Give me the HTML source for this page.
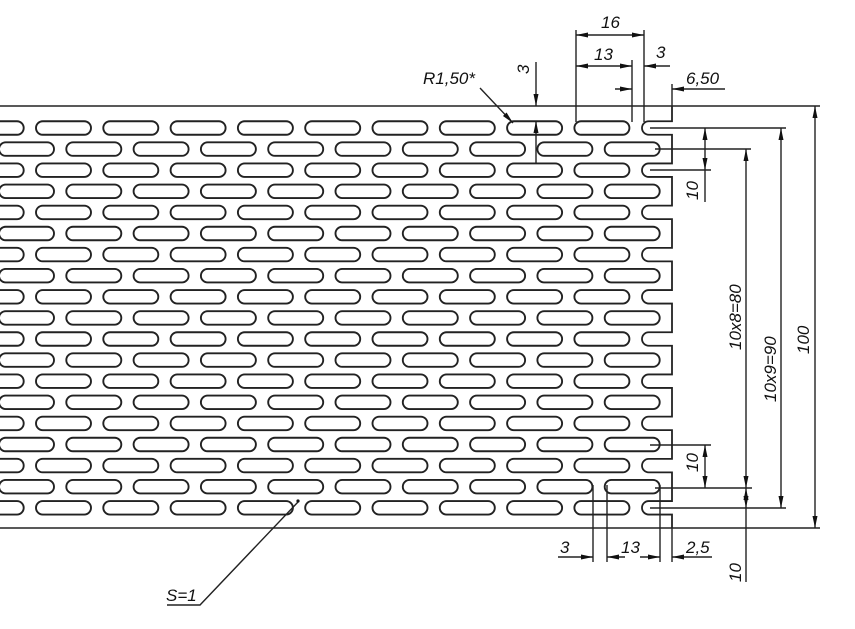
<!DOCTYPE html>
<html><head><meta charset="utf-8"><style>
html,body{margin:0;padding:0;background:#fff;}
svg{display:block;}
text{font-family:"Liberation Sans",sans-serif;font-style:italic;font-size:17px;fill:#111;}
</style></head><body>
<svg id="s" width="855" height="629" viewBox="0 0 855 629" xmlns="http://www.w3.org/2000/svg">
<defs>
<marker id="a" viewBox="0 0 12 6" refX="12" refY="3" markerWidth="13" markerHeight="6" markerUnits="userSpaceOnUse" orient="auto-start-reverse"><path d="M0,0.5 L12,3 L0,5.5z" fill="#111"/></marker>
</defs>
<g id="slots" fill="none" stroke="#222" stroke-width="1.9"></g>
<g fill="none" stroke="#222" stroke-width="1.4" id="lines">
<line x1="0" y1="106" x2="820" y2="106"/>
<line x1="0" y1="528" x2="820" y2="528"/>
<path id="edge" d="" stroke-width="1.8"/>
<line x1="576" y1="30" x2="576" y2="122"/>
<line x1="644" y1="30" x2="644" y2="122"/>
<line x1="632" y1="60" x2="632" y2="122"/>
<line x1="672" y1="84" x2="672" y2="106"/>
<line x1="576" y1="35" x2="644" y2="35" marker-start="url(#a)" marker-end="url(#a)"/>
<line x1="576" y1="66" x2="632" y2="66" marker-start="url(#a)" marker-end="url(#a)"/>
<line x1="670" y1="66" x2="644" y2="66" marker-end="url(#a)"/>
<line x1="615" y1="89" x2="632" y2="89" marker-end="url(#a)"/>
<line x1="725" y1="89" x2="672" y2="89" marker-end="url(#a)"/>
<line x1="480" y1="88" x2="513" y2="123" marker-end="url(#a)"/>
<line x1="536" y1="62" x2="536" y2="106" marker-end="url(#a)"/>
<line x1="536" y1="163" x2="536" y2="121" marker-end="url(#a)"/>
<line x1="650" y1="128" x2="786" y2="128"/>
<line x1="655" y1="149" x2="751" y2="149"/>
<line x1="650" y1="170" x2="711" y2="170"/>
<line x1="705" y1="149" x2="705" y2="128" marker-end="url(#a)"/>
<line x1="705" y1="149" x2="705" y2="170" marker-end="url(#a)"/>
<line x1="705" y1="170" x2="705" y2="202"/>
<line x1="746" y1="149" x2="746" y2="488" marker-start="url(#a)" marker-end="url(#a)"/>
<line x1="781" y1="128" x2="781" y2="508" marker-start="url(#a)" marker-end="url(#a)"/>
<line x1="815" y1="106" x2="815" y2="528" marker-start="url(#a)" marker-end="url(#a)"/>
<line x1="650" y1="445" x2="711" y2="445"/>
<line x1="655" y1="488" x2="752" y2="488"/>
<line x1="650" y1="508" x2="786" y2="508"/>
<line x1="705" y1="467" x2="705" y2="445" marker-end="url(#a)"/>
<line x1="705" y1="467" x2="705" y2="488" marker-end="url(#a)"/>
<line x1="746" y1="498" x2="746" y2="488" marker-end="url(#a)"/>
<line x1="746" y1="498" x2="746" y2="508" marker-end="url(#a)"/>
<line x1="746" y1="508" x2="746" y2="582"/>
<line x1="593" y1="485" x2="593" y2="562"/>
<line x1="607" y1="485" x2="607" y2="562"/>
<line x1="660" y1="485" x2="660" y2="562"/>
<line x1="672" y1="528" x2="672" y2="562"/>
<line x1="558" y1="557" x2="593" y2="557" marker-end="url(#a)"/>
<line x1="625" y1="557" x2="607" y2="557" marker-end="url(#a)"/>
<line x1="640" y1="557" x2="660" y2="557" marker-end="url(#a)"/>
<line x1="712" y1="557" x2="672" y2="557" marker-end="url(#a)"/>
<polyline points="167,605 200,605 298,502"/>
</g>
<circle cx="298" cy="501" r="1.6" fill="#111"/>
<text x="601" y="28">16</text>
<text x="594" y="60">13</text>
<text x="656" y="58">3</text>
<text x="686" y="84">6,50</text>
<text x="423" y="84">R1,50*</text>
<text x="0" y="0" transform="translate(529,74) rotate(-90)">3</text>
<text x="0" y="0" transform="translate(698,200) rotate(-90)">10</text>
<text x="0" y="0" transform="translate(741,350) rotate(-90)">10x8=80</text>
<text x="0" y="0" transform="translate(776,402) rotate(-90)">10x9=90</text>
<text x="0" y="0" transform="translate(809,354) rotate(-90)">100</text>
<text x="0" y="0" transform="translate(698,472) rotate(-90)">10</text>
<text x="0" y="0" transform="translate(741,582) rotate(-90)">10</text>
<text x="560" y="553">3</text>
<text x="621" y="553">13</text>
<text x="686" y="553">2,5</text>
<text x="166" y="601">S=1</text>
</svg>
<script>
(function(){
var ns="http://www.w3.org/2000/svg",g=document.getElementById("slots");
var P=67.3,top=128,pitch=21.1,h=13.5,w=55;
var d="M672,106";
for(var r=0;r<19;r++){
 var y=top+r*pitch, st=(r%2==0)?36:-1;
 for(var k=-1;k<10;k++){
  var x=st+k*P;
  if(r%2==0 && k>=9) continue;
  if(x+w>672) continue;
  var e=document.createElementNS(ns,"rect");
  e.setAttribute("x",x);e.setAttribute("y",y-h/2);e.setAttribute("width",w);e.setAttribute("height",h);
  e.setAttribute("rx",6.75);e.setAttribute("ry",6.75);g.appendChild(e);
 }
 if(r%2==0){
  d+=" L672,"+(y-6.75)+" L648.75,"+(y-6.75)+" A6.75,6.75 0 0 0 648.75,"+(y+6.75)+" L672,"+(y+6.75);
 }
}
d+=" L672,528";
document.getElementById("edge").setAttribute("d",d);
})();
</script>
</body></html>
